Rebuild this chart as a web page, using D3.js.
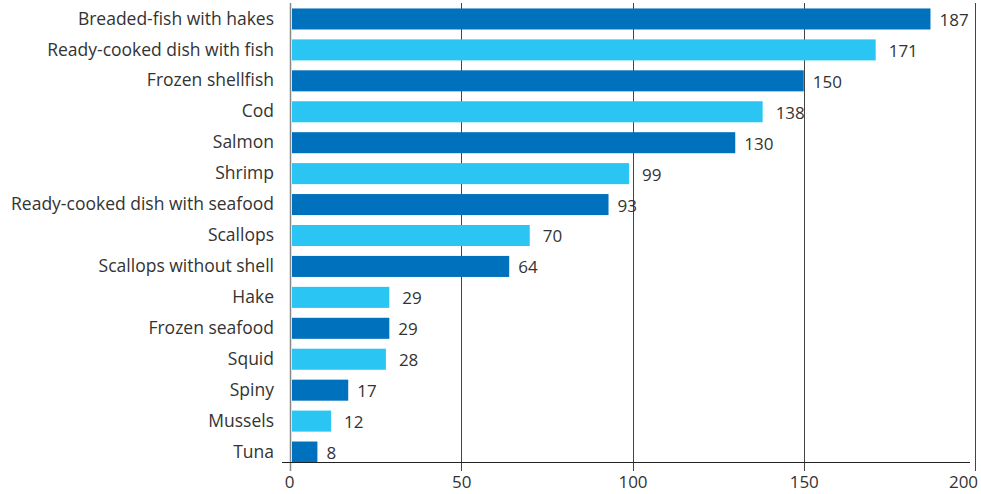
<!DOCTYPE html>
<html>
<head>
<meta charset="utf-8">
<script src="https://cdn.jsdelivr.net/npm/d3@7"></script>
<style>
  html, body { margin: 0; padding: 0; background: #fff; }
  svg { display: block; }
  text { font-family: "Open Sans", "Noto Sans", sans-serif; fill: #333; }
</style>
</head>
<body>
<svg id="chart" width="981" height="494"></svg>
<script>
const categories = [
  "Breaded-fish with hakes",
  "Ready-cooked dish with fish",
  "Frozen shellfish",
  "Cod",
  "Salmon",
  "Shrimp",
  "Ready-cooked dish with seafood",
  "Scallops",
  "Scallops without shell",
  "Hake",
  "Frozen seafood",
  "Squid",
  "Spiny",
  "Mussels",
  "Tuna"
];
const values = [187, 171, 150, 138, 130, 99, 93, 70, 64, 29, 29, 28, 17, 12, 8];
const xTicks = [0, 50, 100, 150, 200];
const colors = ["#0071BC", "#2BC5F4"];

const svg = d3.select("#chart");
const x = d3.scaleLinear().domain([0, 200]).range([290, 975]);
const y = d3.scaleBand().domain(categories).range([3.5, 467.5]).paddingInner(0.32).paddingOuter(0.16);
const axisY = 462;
const fontFam = '"Open Sans", "Noto Sans", sans-serif';

// vertical gridlines
svg.append("g").selectAll("line").data(xTicks.filter(d => d > 0)).join("line")
  .attr("x1", d => Math.round(x(d)) + 0.5).attr("x2", d => Math.round(x(d)) + 0.5)
  .attr("y1", 3).attr("y2", 471)
  .attr("stroke", "#444").attr("stroke-width", 1);

// left axis line
svg.append("line")
  .attr("x1", x(0) + 0.5).attr("x2", x(0) + 0.5)
  .attr("y1", 3).attr("y2", 471)
  .attr("stroke", "#888").attr("stroke-width", 1.5);

// bars
svg.append("g").selectAll("rect").data(values).join("rect")
  .attr("x", x(0) + 2)
  .attr("y", (d, i) => y(categories[i]))
  .attr("width", d => x(d) - x(0) - 2)
  .attr("height", y.bandwidth())
  .attr("fill", (d, i) => colors[i % 2]);

// value labels
svg.append("g").selectAll("text").data(values).join("text")
  .attr("x", (d, i) => x(d) + (i % 2 ? 13 : 9))
  .attr("y", (d, i) => y(categories[i]) + y.bandwidth() / 2 + 1)
  .attr("dy", "0.35em")
  .attr("font-size", 17)
  .text(d => d);

// category labels
const yAxis = d3.axisLeft(y).tickSize(0).tickPadding(0);
const gy = svg.append("g").attr("transform", `translate(274,0)`).call(yAxis);
gy.select(".domain").remove();
gy.selectAll("text").attr("font-size", 17.5).attr("fill", "#333")
  .style("font-family", fontFam);

// x axis
const xAxis = d3.axisBottom(x).tickValues(xTicks).tickSize(9).tickPadding(5);
const gx = svg.append("g").attr("transform", `translate(0,${axisY})`).call(xAxis);
gx.select(".domain").attr("d", `M${282},0.5H${970}`).attr("stroke", "#222");
gx.selectAll(".tick line").attr("stroke", "none");
gx.selectAll("text").attr("font-size", 17).attr("fill", "#333")
  .style("font-family", fontFam)
  .attr("dx", d => d === 200 ? -12 : (d === 0 ? -1 : 0));
</script>
</body>
</html>
